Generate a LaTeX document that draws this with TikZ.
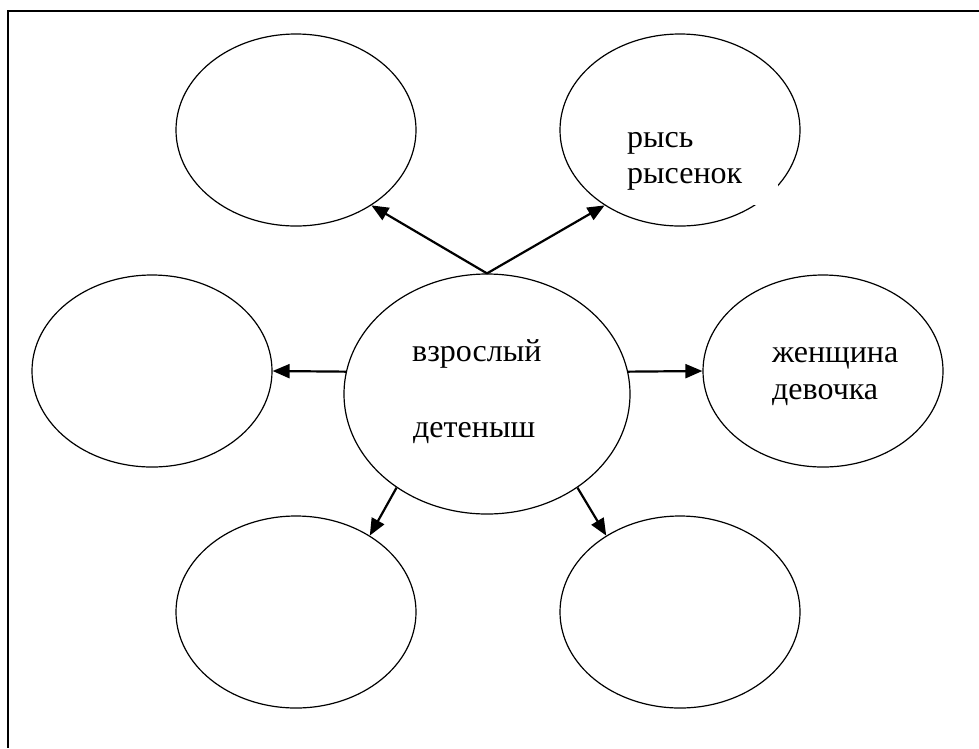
\documentclass[tikz,border=0pt]{standalone}
\usepackage{fontspec}
\setmainfont{Liberation Serif}
\usetikzlibrary{shapes.geometric,arrows.meta}

\tikzset{
	oval/.style={draw, ellipse, line width=1.2pt, inner sep=0pt,
		minimum width=240pt, minimum height=192pt},
	bigoval/.style={oval, minimum width=286pt, minimum height=240pt},
	word/.style={anchor=base west, inner sep=0pt, font=\fontsize{32}{38}\selectfont},
	link/.style={line width=2.2pt, -{Triangle[length=17pt,width=14pt]}}
}

\begin{document}
\begin{tikzpicture}[x=1pt,y=-1pt]
				\useasboundingbox (0,0) rectangle (979,748);
				% frame
				\draw[line width=1.6pt] (979,11) -- (8,11) -- (8,748);
				
				% ovals
				\node[bigoval] (mid) at (487,394) {};
				\node[oval] (tl) at (296,130) {};
				\node[oval] (tr) at (680,130) {};
				\node[oval] (ml) at (152,371) {};
				\node[oval] (mr) at (823,371) {};
				\node[oval] (bl) at (296,612) {};
				\node[oval] (br) at (680,612) {};
				
				% texts
				\fill[white] (620,112) rectangle (778,205);
				\node[word] (ryss) at (627,147) {рысь};
				\node[word] (rysenok) at (627,183) {рысенок};
				\node[word] (vzr) at (412,361) {взрослый};
				\node[word] (det) at (413,437) {детеныш};
				\node[word] (zhen) at (772,362) {женщина};
				\node[word] (dev) at (772,399) {девочка};
				
				% arrows
				\draw[link] (mid.north) -- (tl.-45);
				\draw[link] (mid.north) -- (tr.-135);
				\draw[link] (mid.171) -- (ml.east);
				\draw[link] (mid.9) -- (mr.west);
				\draw[link] (mid.-134) -- (bl.46);
				\draw[link] (mid.-46) -- (br.134);
\end{tikzpicture}
\end{document}
